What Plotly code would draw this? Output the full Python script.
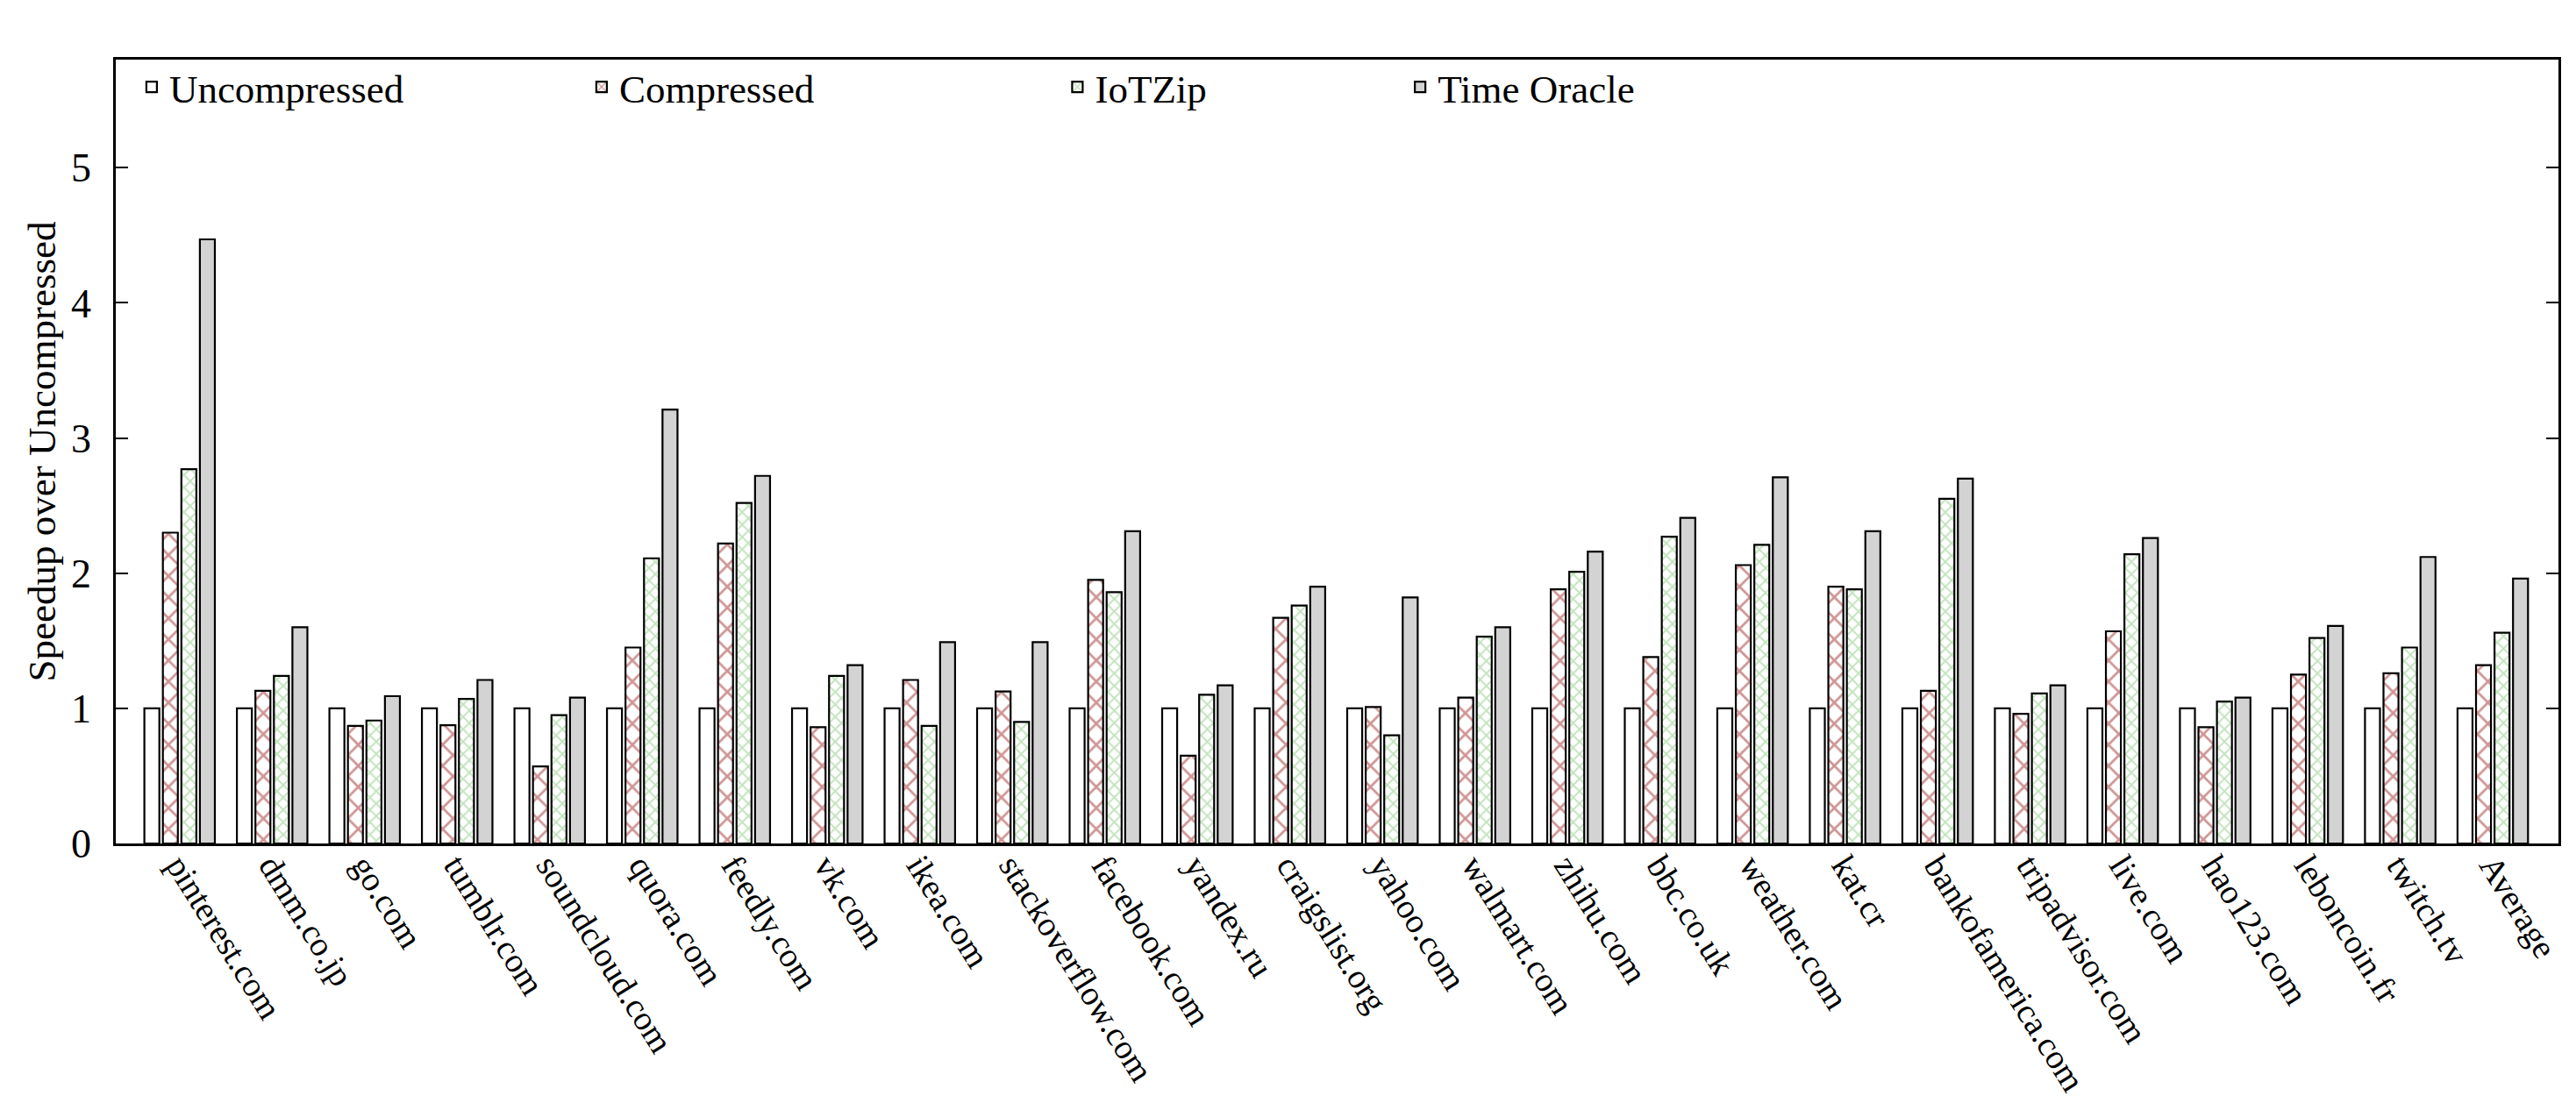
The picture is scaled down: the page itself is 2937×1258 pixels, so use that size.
import plotly.graph_objects as go

# Speedup over the uncompressed baseline, per site
sites = ['pinterest.com', 'dmm.co.jp', 'go.com', 'tumblr.com', 'soundcloud.com',
         'quora.com', 'feedly.com', 'vk.com', 'ikea.com', 'stackoverflow.com',
         'facebook.com', 'yandex.ru', 'craigslist.org', 'yahoo.com', 'walmart.com',
         'zhihu.com', 'bbc.co.uk', 'weather.com', 'kat.cr', 'bankofamerica.com',
         'tripadvisor.com', 'live.com', 'hao123.com', 'leboncoin.fr', 'twitch.tv',
         'Average']

uncompressed = [1.0] * 26
compressed = [2.30, 1.13, 0.87, 0.875, 0.57, 1.45, 2.22, 0.86, 1.21, 1.125,
              1.95, 0.65, 1.67, 1.01, 1.08, 1.88, 1.38, 2.06, 1.90, 1.13,
              0.96, 1.57, 0.86, 1.25, 1.26, 1.32]
iotzip = [2.77, 1.24, 0.91, 1.07, 0.95, 2.11, 2.52, 1.24, 0.87, 0.90,
          1.86, 1.10, 1.76, 0.80, 1.53, 2.01, 2.27, 2.21, 1.88, 2.55,
          1.11, 2.14, 1.05, 1.52, 1.45, 1.56]
time_oracle = [4.47, 1.60, 1.09, 1.21, 1.08, 3.21, 2.72, 1.32, 1.49, 1.49,
               2.31, 1.17, 1.90, 1.82, 1.60, 2.16, 2.41, 2.71, 2.31, 2.70,
               1.17, 2.26, 1.08, 1.61, 2.12, 1.96]

y_ticks = [0, 1, 2, 3, 4, 5]

FONT = 'Liberation Serif'
outline = dict(color='black', width=2.2)

fig = go.Figure()
fig.add_trace(go.Bar(name='Uncompressed', x=sites, y=uncompressed, legend='legend',
                     marker=dict(color='white', line=outline)))
fig.add_trace(go.Bar(name='Compressed', x=sites, y=compressed, legend='legend2',
                     marker=dict(color='white', line=outline,
                                 pattern=dict(shape='x', fgcolor='#a02c2c',
                                              bgcolor='white', size=17,
                                              solidity=0.3))))
fig.add_trace(go.Bar(name='IoTZip', x=sites, y=iotzip, legend='legend3',
                     marker=dict(color='white', line=outline,
                                 pattern=dict(shape='x', fgcolor='#86c87c',
                                              bgcolor='white', size=10,
                                              solidity=0.35))))
fig.add_trace(go.Bar(name='Time Oracle', x=sites, y=time_oracle, legend='legend4',
                     marker=dict(color='#d3d3d3', line=outline)))

# one legend per series so each entry sits where the original key is
leg = dict(orientation='h', y=0.965, xanchor='left', yanchor='middle',
           bgcolor='rgba(0,0,0,0)', font=dict(family=FONT, size=45))

fig.update_layout(
    width=2937, height=1258,
    paper_bgcolor='white', plot_bgcolor='white',
    margin=dict(l=124, r=28, t=60, b=304),
    barmode='group', bargap=0.2, bargroupgap=0.19,
    font=dict(family=FONT, size=40, color='black'),
    showlegend=True,
    legend=dict(leg, x=0.0075),
    legend2=dict(leg, x=0.1917),
    legend3=dict(leg, x=0.3865),
    legend4=dict(leg, x=0.5268),
)

fig.update_xaxes(
    type='category', range=[-0.69, 25.71], automargin=False,
    tickangle=58, ticks='', tickfont=dict(family=FONT, size=39),
    ticklabelstandoff=-16,
    showline=True, linecolor='black', linewidth=2.5, mirror=True,
    showgrid=False, zeroline=False,
)
fig.update_yaxes(
    range=[0, 5.8], tickvals=y_ticks, automargin=False,
    ticks='inside', ticklen=14, tickwidth=2, tickcolor='black',
    tickfont=dict(family=FONT, size=46), ticklabelstandoff=16,
    title=dict(text='Speedup over Uncompressed', font=dict(family=FONT, size=45),
               standoff=4),
    showline=True, linecolor='black', linewidth=2.5, mirror='ticks',
    showgrid=False, zeroline=False,
)

fig.write_html('out.html')
